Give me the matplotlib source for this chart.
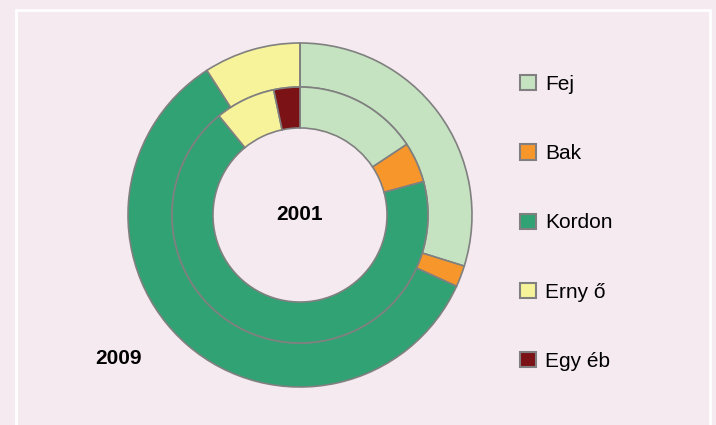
import numpy as np
import matplotlib.pyplot as plt
from matplotlib.patches import Rectangle

# share of training systems (%)
labels = ["Fej", "Bak", "Kordon", "Erny ő", "Egy éb"]
vals_2001 = [15.7, 5.1, 68.3, 7.6, 3.3]   # inner ring
vals_2009 = [29.8, 2.0, 59.1, 9.1, 0.0]   # outer ring
colors = ["#C5E3C1", "#F7962B", "#31A274", "#F7F39A", "#7B1216"]

fonts = ["Liberation Sans Narrow", "Liberation Sans", "DejaVu Sans"]
bg = "#F5EAEF"

fig = plt.figure(figsize=(7.16, 4.25), dpi=100, facecolor=bg)
W, H = 716, 425
cx, cy, r = 300, 215, 172
ax = fig.add_axes([(cx - r) / W, (H - cy - r) / H, 2 * r / W, 2 * r / H])
ax.set_facecolor(bg)

wp = dict(edgecolor="#808080", linewidth=1.2)
outer, _ = ax.pie(vals_2009, colors=colors, radius=1.0, startangle=90,
                  counterclock=False, wedgeprops=dict(width=0.256, **wp))
inner, _ = ax.pie(vals_2001, colors=colors, radius=0.744, startangle=90,
                  counterclock=False, wedgeprops=dict(width=0.238, **wp))
ax.set_xlim(-1, 1)
ax.set_ylim(-1, 1)
ax.set_aspect("equal")
ax.axis("off")

ax.text(0, 0.0, "2001", ha="center", va="center", fontsize=15,
        family=fonts, fontweight="bold")
fig.text(118 / W, 1 - 358 / H, "2009", ha="center", va="center", fontsize=15,
         family=fonts, fontweight="bold")

leg = fig.legend(inner, labels, loc="upper left",
                 bbox_to_anchor=(520 / W, 1 - 75 / H), frameon=False,
                 prop=dict(family=fonts, size=15), handlelength=0.75,
                 handleheight=0.75, handletextpad=0.45, labelspacing=2.41,
                 borderpad=0, borderaxespad=0)
for h in leg.legend_handles:
    h.set_edgecolor("#808080")
    h.set_linewidth(1.5)

# white frame around the plot area
fig.add_artist(Rectangle((16 / W, -0.1), (710 - 16) / W, 1.1 - 10 / H,
                         transform=fig.transFigure, fill=False,
                         edgecolor="white", linewidth=2))

fig.savefig("out.png", dpi=100, facecolor=bg)
